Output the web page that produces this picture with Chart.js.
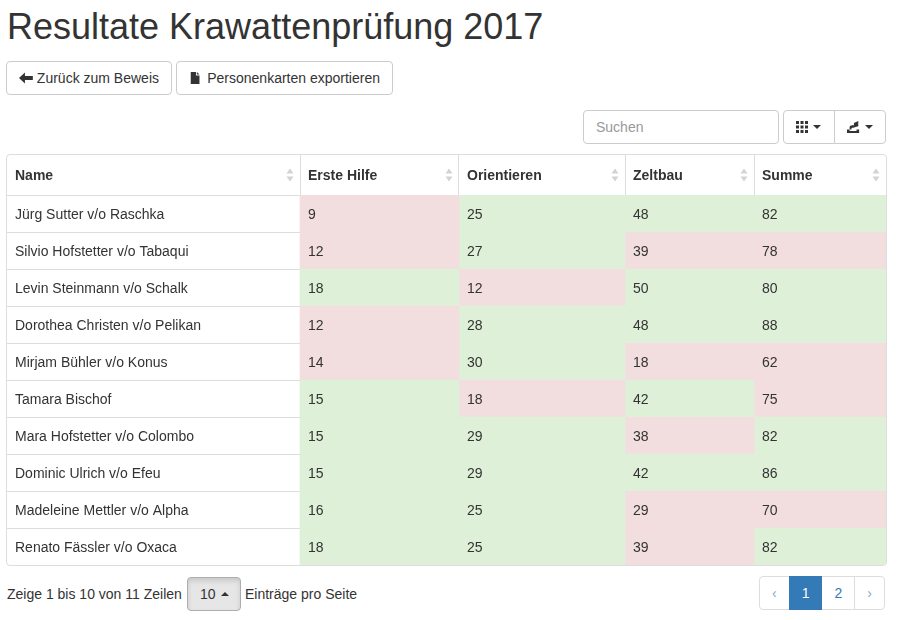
<!DOCTYPE html>
<html>

<head>
    <title>Resultate Krawattenprüfung 2017</title>
    <script src="https://cdn.jsdelivr.net/npm/chart.js@4.4.2/dist/chart.umd.min.js"></script>
    <style>
        body {
            margin: 0;
            width: 901px;
            height: 620px;
            position: relative;
            font-family: "Liberation Sans", Arial, sans-serif;
            font-size: 14px;
            color: #333;
            background: #fff;
        }

        h1 {
            position: absolute;
            left: 7px;
            top: 7px;
            margin: 0;
            font-size: 36px;
            font-weight: normal;
            line-height: 40px;
            white-space: nowrap;
        }

        .btn {
            position: absolute;
            box-sizing: border-box;
            height: 34px;
            border: 1px solid #ccc;
            border-radius: 4px;
            background: #fff;
            display: flex;
            align-items: center;
            padding: 0 12px;
            white-space: nowrap;
        }

        .btn svg {
            margin-right: 4px;
        }

        .caret {
            display: inline-block;
            width: 0;
            height: 0;
            margin-left: 5px;
            border-top: 4px solid #333;
            border-left: 4px solid transparent;
            border-right: 4px solid transparent;
        }

        .caret.up {
            border-top: 0;
            border-bottom: 4px solid #333;
        }

        .search {
            position: absolute;
            left: 583px;
            top: 110px;
            width: 196px;
            height: 34px;
            box-sizing: border-box;
            border: 1px solid #ccc;
            border-radius: 4px;
            padding: 0 12px;
            display: flex;
            align-items: center;
            color: #999;
        }

        .table-box {
            position: absolute;
            left: 6px;
            top: 154px;
            width: 879px;
            height: 410px;
            border: 1px solid #ddd;
            border-radius: 4px;
            overflow: hidden;
        }

        .chartBox {
            position: relative;
            width: 879px;
            height: 410px;
        }

        .footer-text {
            position: absolute;
            top: 577px;
            height: 34px;
            line-height: 34px;
            white-space: nowrap;
        }

        .pager {
            position: absolute;
            left: 759px;
            top: 576px;
            display: flex;
            height: 34px;
        }

        .pager span {
            box-sizing: border-box;
            height: 34px;
            line-height: 32px;
            padding: 0 12px;
            border: 1px solid #ddd;
            margin-left: -1px;
            color: #337ab7;
            background: #fff;
        }

        .pager span:first-child {
            border-radius: 4px 0 0 4px;
            margin-left: 0;
            color: #8aa6c4;
        }

        .pager span:last-child {
            border-radius: 0 4px 4px 0;
            color: #8aa6c4;
        }

        .pager span.active {
            background: #337ab7;
            border-color: #337ab7;
            color: #fff;
            position: relative;
        }
    </style>
</head>

<body>
    <h1>Resultate Krawattenprüfung 2017</h1>

    <div class="btn" style="left:6px; top:61px; width:166px;">
        <svg width="14" height="14" viewBox="0 0 14 14">
            <path d="M0 7 L6 1.5 L6 5 L14 5 L14 9 L6 9 L6 12.5 Z" fill="#333" />
        </svg>Zurück zum Beweis
    </div>
    <div class="btn" style="left:176px; top:61px; width:217px;">
        <svg width="14" height="14" viewBox="0 0 14 14" style="margin-right:6px">
            <path d="M2 0 L8 0 L8 4 L12 4 L12 14 L2 14 Z M9 0 L12 3 L9 3 Z" fill="#333" />
        </svg>Personenkarten exportieren
    </div>

    <div class="search">Suchen</div>

    <div class="btn" style="left:783px; top:110px; width:52px; border-radius:4px 0 0 4px;">
        <svg width="12" height="12" viewBox="0 0 12 12" style="margin-right:0">
            <g fill="#333">
                <rect x="0" y="0" width="3" height="3" /><rect x="4.5" y="0" width="3" height="3" /><rect x="9" y="0" width="3" height="3" />
                <rect x="0" y="4.5" width="3" height="3" /><rect x="4.5" y="4.5" width="3" height="3" /><rect x="9" y="4.5" width="3" height="3" />
                <rect x="0" y="9" width="3" height="3" /><rect x="4.5" y="9" width="3" height="3" /><rect x="9" y="9" width="3" height="3" />
            </g>
        </svg><span class="caret"></span>
    </div>
    <div class="btn" style="left:834px; top:110px; width:52px; border-radius:0 4px 4px 0;">
        <svg width="15" height="14" viewBox="0 0 15 14" style="margin-right:0">
            <g fill="#333">
                <path d="M0 10 L3 10 L3 11.5 L11 11.5 L11 10 L14 10 L14 14 L0 14 Z" />
                <path d="M3 10 L3 7 Q3 5 6 5 L8 5 L8 2.5 L13 0 L13 6 L8 7.5 L8 8 L6 8 Q5 8 5 10 Z" />
            </g>
        </svg><span class="caret"></span>
    </div>

    <div class="table-box">
        <div class="chartBox">
            <canvas id="resultChart"></canvas>
        </div>
    </div>

    <div class="footer-text" style="left:7px;">Zeige 1 bis 10 von 11 Zeilen</div>
    <div class="btn" style="left:187px; top:577px; width:54px; background:#e6e6e6; border-color:#adadad; box-shadow: inset 0 3px 5px rgba(0,0,0,.125);">
        10<span class="caret up"></span>
    </div>
    <div class="footer-text" style="left:245px;">Einträge pro Seite</div>

    <div class="pager">
        <span>‹</span><span class="active">1</span><span>2</span><span>›</span>
    </div>

    <script>
        // Spalten und Werte
        const headers = ['Name', 'Erste Hilfe', 'Orientieren', 'Zeltbau', 'Summe'];
        const names = [
            'Jürg Sutter v/o Raschka',
            'Silvio Hofstetter v/o Tabaqui',
            'Levin Steinmann v/o Schalk',
            'Dorothea Christen v/o Pelikan',
            'Mirjam Bühler v/o Konus',
            'Tamara Bischof',
            'Mara Hofstetter v/o Colombo',
            'Dominic Ulrich v/o Efeu',
            'Madeleine Mettler v/o Alpha',
            'Renato Fässler v/o Oxaca'
        ];
        const ersteHilfe = [9, 12, 18, 12, 14, 15, 15, 15, 16, 18];
        const orientieren = [25, 27, 12, 28, 30, 18, 29, 29, 25, 25];
        const zeltbau = [48, 39, 50, 48, 18, 42, 38, 42, 29, 39];
        const summe = [82, 78, 80, 88, 62, 75, 82, 86, 70, 82];
        // Mindestpunkte zum Bestehen (gruen ab diesem Wert)
        const passMarks = [15, 20, 40, 80];

        // Layout: Spaltenbreiten in px
        const colWidths = [293, 159, 166, 129, 132];
        const edges = [0];
        colWidths.forEach(w => edges.push(edges[edges.length - 1] + w));

        const FONT = '"Liberation Sans", Arial, sans-serif';
        Chart.defaults.font.family = FONT;

        const scoreCols = [ersteHilfe, orientieren, zeltbau, summe];

        const datasets = scoreCols.map((vals, i) => ({
            label: headers[i + 1],
            data: vals.map(() => [edges[i + 1], edges[i + 2]]),
            scores: vals,
            backgroundColor: vals.map(v => v >= passMarks[i] ? '#dff0d8' : '#f2dede'),
            borderWidth: 0,
            barPercentage: 1,
            categoryPercentage: 1,
            grouped: false
        }));

        // Kopfzeile, Sortierpfeile und Zellwerte
        const tableText = {
            id: 'tableText',
            afterDraw(chart) {
                const ctx = chart.ctx;
                const xs = chart.scales.x;
                const ys = chart.scales.y;
                const headMid = xs.top + xs.height / 2;
                ctx.save();
                ctx.textBaseline = 'middle';
                ctx.textAlign = 'left';
                headers.forEach((h, i) => {
                    const left = xs.getPixelForValue(edges[i]);
                    const right = xs.getPixelForValue(edges[i + 1]);
                    ctx.fillStyle = '#333';
                    ctx.font = 'bold 14px ' + FONT;
                    ctx.fillText(h, left + 8, headMid + 1);
                    // Sortierpfeile
                    const cx = right - 10;
                    ctx.fillStyle = '#d3d3d3';
                    ctx.beginPath();
                    ctx.moveTo(cx - 3.5, headMid - 1.5);
                    ctx.lineTo(cx + 3.5, headMid - 1.5);
                    ctx.lineTo(cx, headMid - 6.5);
                    ctx.closePath();
                    ctx.fill();
                    ctx.beginPath();
                    ctx.moveTo(cx - 3.5, headMid + 1.5);
                    ctx.lineTo(cx + 3.5, headMid + 1.5);
                    ctx.lineTo(cx, headMid + 6.5);
                    ctx.closePath();
                    ctx.fill();
                });
                ctx.font = '14px ' + FONT;
                ctx.fillStyle = '#333';
                chart.data.datasets.forEach((ds, i) => {
                    const x = xs.getPixelForValue(edges[i + 1]) + 8;
                    ds.scores.forEach((v, r) => {
                        ctx.fillText(String(v), x, ys.getPixelForValue(r) + 2);
                    });
                });
                ctx.restore();
            }
        };

        const ctx = document.getElementById('resultChart').getContext('2d');
        const resultChart = new Chart(ctx, {
            type: 'bar',
            data: {
                labels: names,
                datasets: datasets
            },
            options: {
                indexAxis: 'y',
                responsive: true,
                maintainAspectRatio: false,
                animation: false,
                events: [],
                layout: { padding: 0 },
                plugins: {
                    legend: { display: false },
                    tooltip: { enabled: false }
                },
                scales: {
                    x: {
                        type: 'linear',
                        position: 'top',
                        min: edges[0],
                        max: edges[edges.length - 1],
                        z: 1,
                        border: { display: false },
                        grid: {
                            color: '#ddd',
                            drawTicks: true,
                            tickLength: 40
                        },
                        ticks: { display: false },
                        afterBuildTicks: s => {
                            s.ticks = edges.slice(1, -1).map(v => ({ value: v }));
                        },
                        afterFit: s => {
                            s.height = 40;
                        }
                    },
                    y: {
                        type: 'category',
                        offset: true,
                        z: 1,
                        border: { display: false },
                        grid: {
                            offset: true,
                            color: '#ddd',
                            drawTicks: false
                        },
                        ticks: {
                            mirror: true,
                            padding: 8,
                            labelOffset: 2,
                            color: '#333',
                            font: { size: 14 },
                            autoSkip: false
                        },
                        afterFit: s => {
                            s.width = 0;
                            s.paddingTop = 0;
                            s.paddingBottom = 0;
                        }
                    }
                }
            },
            plugins: [tableText]
        });
    </script>
</body>

</html>
